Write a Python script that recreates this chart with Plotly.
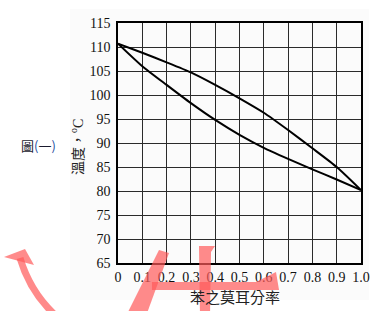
import plotly.graph_objects as go

# ---- data ----
x_frac = [0.0, 0.1, 0.2, 0.3, 0.4, 0.5, 0.6, 0.7, 0.8, 0.9, 1.0]
bubble_T = [110.7, 106.0, 102.1, 98.3, 94.8, 91.7, 89.0, 86.7, 84.5, 82.4, 80.2]
dew_T = [110.7, 108.8, 106.8, 104.7, 102.1, 99.3, 96.3, 92.7, 88.9, 85.0, 80.2]

x_tickvals = [0.0, 0.1, 0.2, 0.3, 0.4, 0.5, 0.6, 0.7, 0.8, 0.9, 1.0]
x_ticktext = ["0", "0.1", "0.2", "0.3", "0.4", "0.5", "0.6", "0.7", "0.8", "0.9", "1.0"]
y_tickvals = [65, 70, 75, 80, 85, 90, 95, 100, 105, 110, 115]
y_ticktext = ["65", "70", "75", "80", "85", "90", "95", "100", "105", "110", "115"]

x_title = "苯之莫耳分率"
y_title = "溫度，<span style='font-family:Liberation Serif'><sup>o</sup>C</span>"
fig_label = ("<span style='color:#1a1a2e'>圖</span><span style='color:#1f4fa0'>(</span>"
             "<span style='color:#1a1a2e'>一</span><span style='color:#1f4fa0'>)</span>")

# ---- layout helpers (pixel -> paper) ----
W, H = 392, 311
ML, MR, MT, MB = 118, 31, 23, 48
PW, PH = W - ML - MR, H - MT - MB


def px(x):
    return (x - ML) / PW


def py(y):
    return (H - MB - y) / PH


def path(pts, close=True):
    s = "M " + " L ".join(f"{px(a):.4f},{py(b):.4f}" for a, b in pts)
    return s + (" Z" if close else "")


SERIF = "Liberation Serif, Times New Roman, serif"
CJK = "Noto Sans CJK TC"

fig = go.Figure()
for ys in (bubble_T, dew_T):
    fig.add_trace(go.Scatter(
        x=x_frac, y=ys, mode="lines",
        line=dict(color="#000000", width=2, shape="spline", smoothing=0.6),
        showlegend=False, hoverinfo="skip"))

axis_common = dict(
    showgrid=True, gridcolor="#2b2b2b", gridwidth=1.3,
    showline=True, linecolor="#000000", linewidth=1.6, mirror=True,
    ticks="", ticklen=0, zeroline=False,
    tickfont=dict(family=SERIF, size=14, color="#111111"),
)

fig.update_xaxes(range=[0, 1], tickmode="array", tickvals=x_tickvals,
                 ticktext=x_ticktext, ticklabelstandoff=0, **axis_common)
fig.update_yaxes(range=[65, 115], tickmode="array", tickvals=y_tickvals,
                 ticktext=y_ticktext, ticklabelstandoff=3, **axis_common)

shapes = [
    # faint background panel
    dict(type="rect", xref="paper", yref="paper", layer="below",
         x0=px(70), x1=px(369), y0=py(300), y1=py(9),
         fillcolor="#fbfbfb", line=dict(width=0)),
]

wm = dict(xref="paper", yref="paper", layer="above", opacity=0.7)
pink = "#ff5a5a"
shapes += [
    dict(type="path", path=f"M {px(20):.4f},{py(258):.4f} Q {px(30):.4f},{py(292):.4f} {px(56):.4f},{py(316):.4f}",
         line=dict(color=pink, width=7), **wm),
    dict(type="path", path=path([(4, 257), (25, 249), (34, 265)]),
         fillcolor=pink, line=dict(width=0), **wm),
    dict(type="path", path=path([(159, 250), (169, 253), (146, 316), (126, 316)]),
         fillcolor=pink, line=dict(width=0), **wm),
    dict(type="path", path=path([(199, 246), (215, 246), (211, 252), (210, 316), (200, 316)]),
         fillcolor=pink, line=dict(width=0), **wm),
    dict(type="path", path=path([(152, 282), (256, 282), (276, 272), (279, 290), (152, 290)]),
         fillcolor=pink, line=dict(width=0), **wm),
]

annotations = [
    dict(text=x_title, xref="paper", yref="paper", x=px(235), y=py(296),
         showarrow=False, xanchor="center", yanchor="middle",
         font=dict(family=CJK, size=15, color="#222222")),
    dict(text=y_title, xref="paper", yref="paper", x=px(77), y=py(147),
         showarrow=False, xanchor="center", yanchor="middle", textangle=-90,
         font=dict(family=CJK, size=14, color="#222222")),
    dict(text=fig_label, xref="paper", yref="paper", x=px(38), y=py(145),
         showarrow=False, xanchor="center", yanchor="middle",
         font=dict(family=CJK, size=13, color="#1a1a2e")),
]

fig.update_layout(
    width=W, height=H,
    margin=dict(l=ML, r=MR, t=MT, b=MB, pad=0),
    paper_bgcolor="#ffffff", plot_bgcolor="#ffffff",
    shapes=shapes, annotations=annotations,
    showlegend=False,
)

fig.write_html("out.html")
